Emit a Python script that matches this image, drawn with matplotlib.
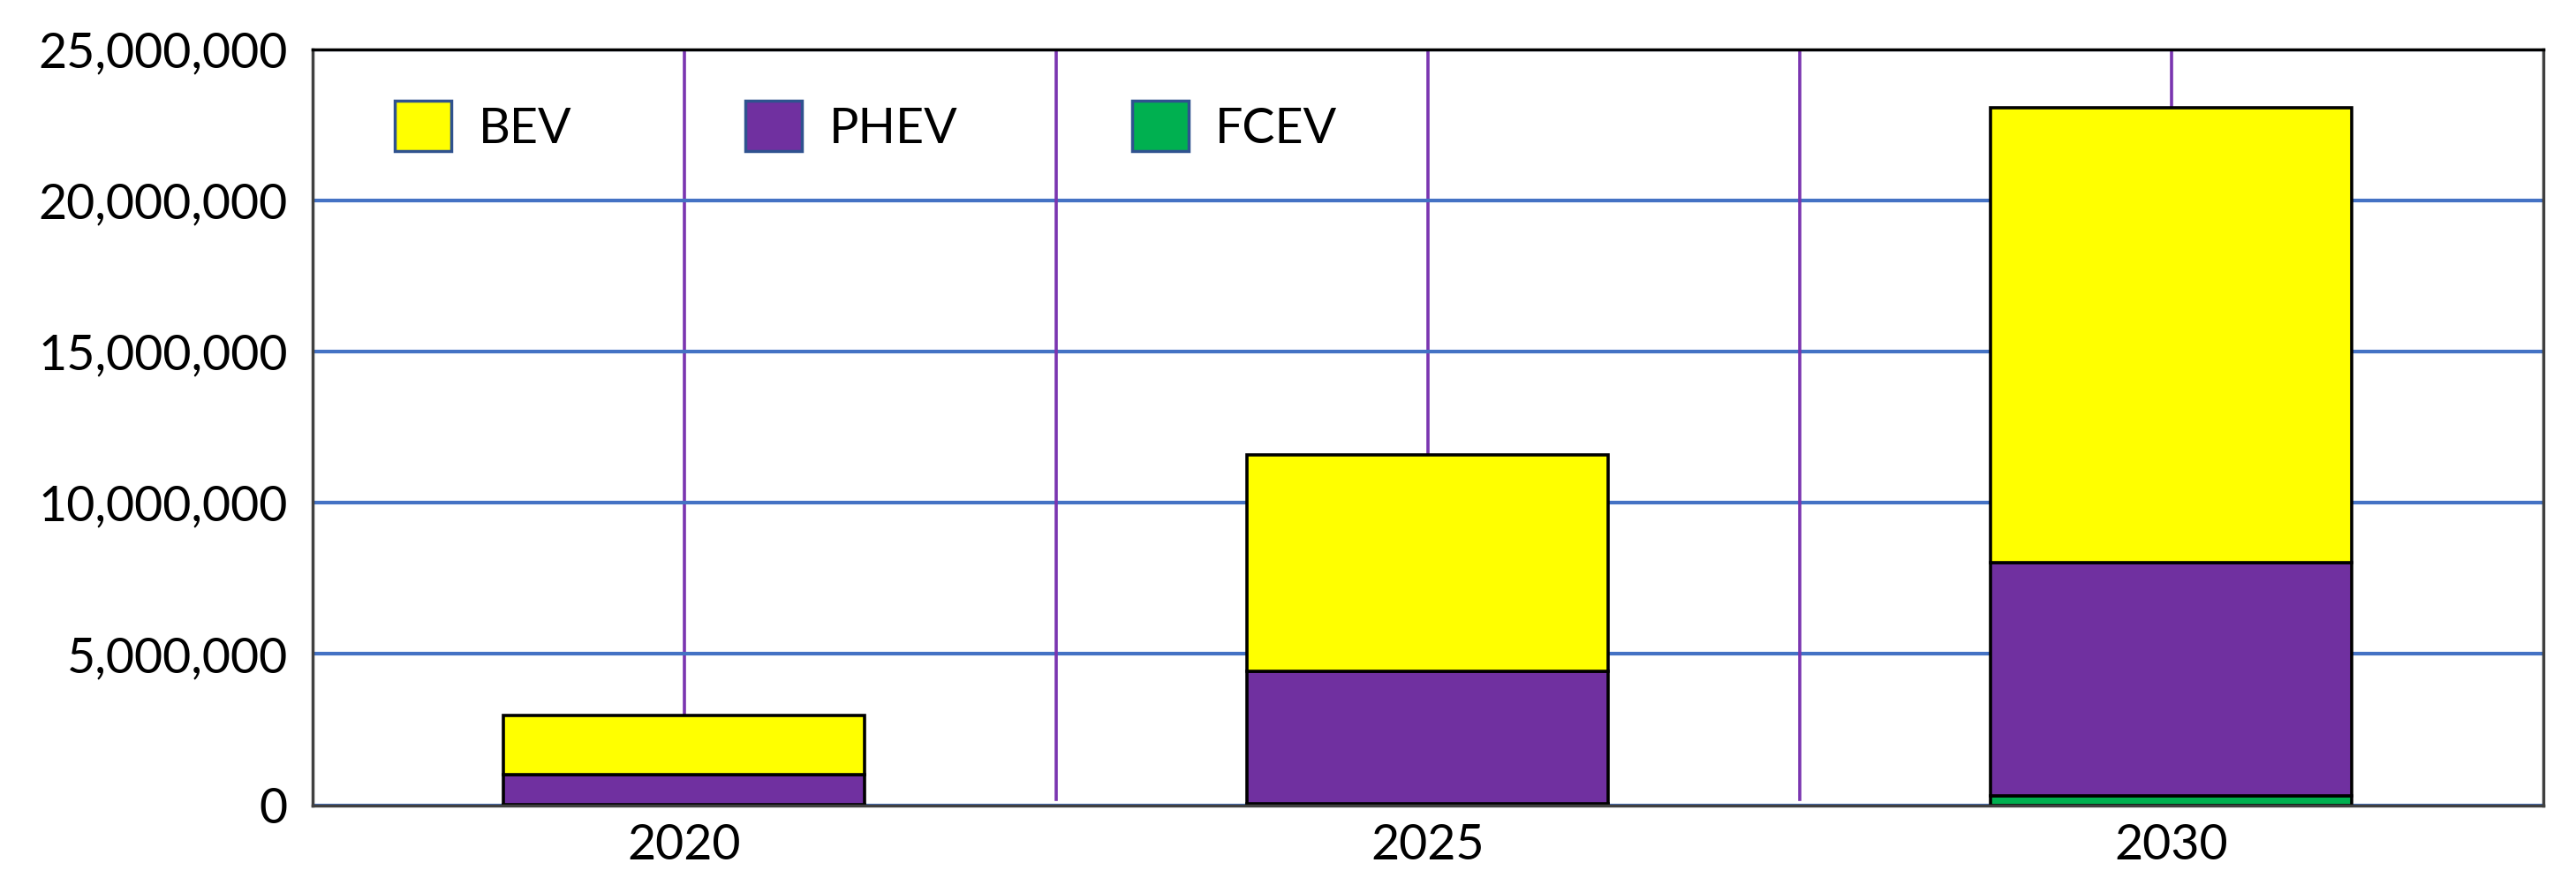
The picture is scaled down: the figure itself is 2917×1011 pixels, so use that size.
import matplotlib
matplotlib.use("Agg")
import matplotlib.pyplot as plt
from matplotlib.patches import Patch
from matplotlib.ticker import FuncFormatter

# EV stock by year (vehicles)
years = ["2020", "2025", "2030"]
fcev = [5_000, 40_000, 320_000]
phev = [1_000_000, 4_400_000, 7_700_000]
bev = [1_950_000, 7_150_000, 15_050_000]

series_names = ["BEV", "PHEV", "FCEV"]
colors = {"BEV": "#FFFF00", "PHEV": "#7030A0", "FCEV": "#00B050"}

plt.rcParams["font.family"] = ["Lato", "DejaVu Sans"]

fig = plt.figure(figsize=(29.17, 10.11), dpi=100)
ax = fig.add_axes([0.1212, 0.0983, 0.866, 0.8465])

x = list(range(len(years)))
width = 0.485
ax.bar(x, fcev, width, color=colors["FCEV"], edgecolor="black", linewidth=2.6, zorder=3)
ax.bar(x, phev, width, bottom=fcev, color=colors["PHEV"], edgecolor="black", linewidth=2.6, zorder=3)
bottom2 = [a + b for a, b in zip(fcev, phev)]
ax.bar(x, bev, width, bottom=bottom2, color=colors["BEV"], edgecolor="black", linewidth=2.6, zorder=3)

ax.set_xlim(-0.5, 2.5)
ax.set_ylim(0, 25_000_000)
ax.set_xticks(x)
ax.set_xticklabels(years)
ax.set_yticks(range(0, 25_000_001, 5_000_000))
ax.yaxis.set_major_formatter(FuncFormatter(lambda v, p: f"{v:,.0f}"))
ax.tick_params(axis="y", length=0, pad=20, labelsize=40)
ax.tick_params(axis="x", length=0, pad=15, labelsize=40)

# gridlines
ax.yaxis.grid(True, color="#4472C4", linewidth=3, zorder=1)
ax.xaxis.grid(True, color="#7A35B0", linewidth=2.6, zorder=1)
for b in [0.5, 1.5]:
    ax.axvline(b, ymin=0.008, ymax=1, color="#7A35B0", linewidth=2.6, zorder=1)
ax.set_axisbelow(True)

for side in ["left", "right", "bottom"]:
    ax.spines[side].set_color("#404040")
    ax.spines[side].set_linewidth(2.5)
ax.spines["top"].set_color("black")
ax.spines["top"].set_linewidth(2.5)
for s in ax.spines.values():
    s.set_zorder(4)

handles = [Patch(facecolor=colors[n], edgecolor="#2F528F", linewidth=2.5) for n in series_names]
ax.legend(handles, series_names, ncol=3, frameon=False, fontsize=40,
          loc="center left", bbox_to_anchor=(0.026, 0.898), borderpad=0,
          handlelength=1.15, handleheight=1.2, handletextpad=0.55, columnspacing=3.55)

fig.savefig("out.png", dpi=100)
